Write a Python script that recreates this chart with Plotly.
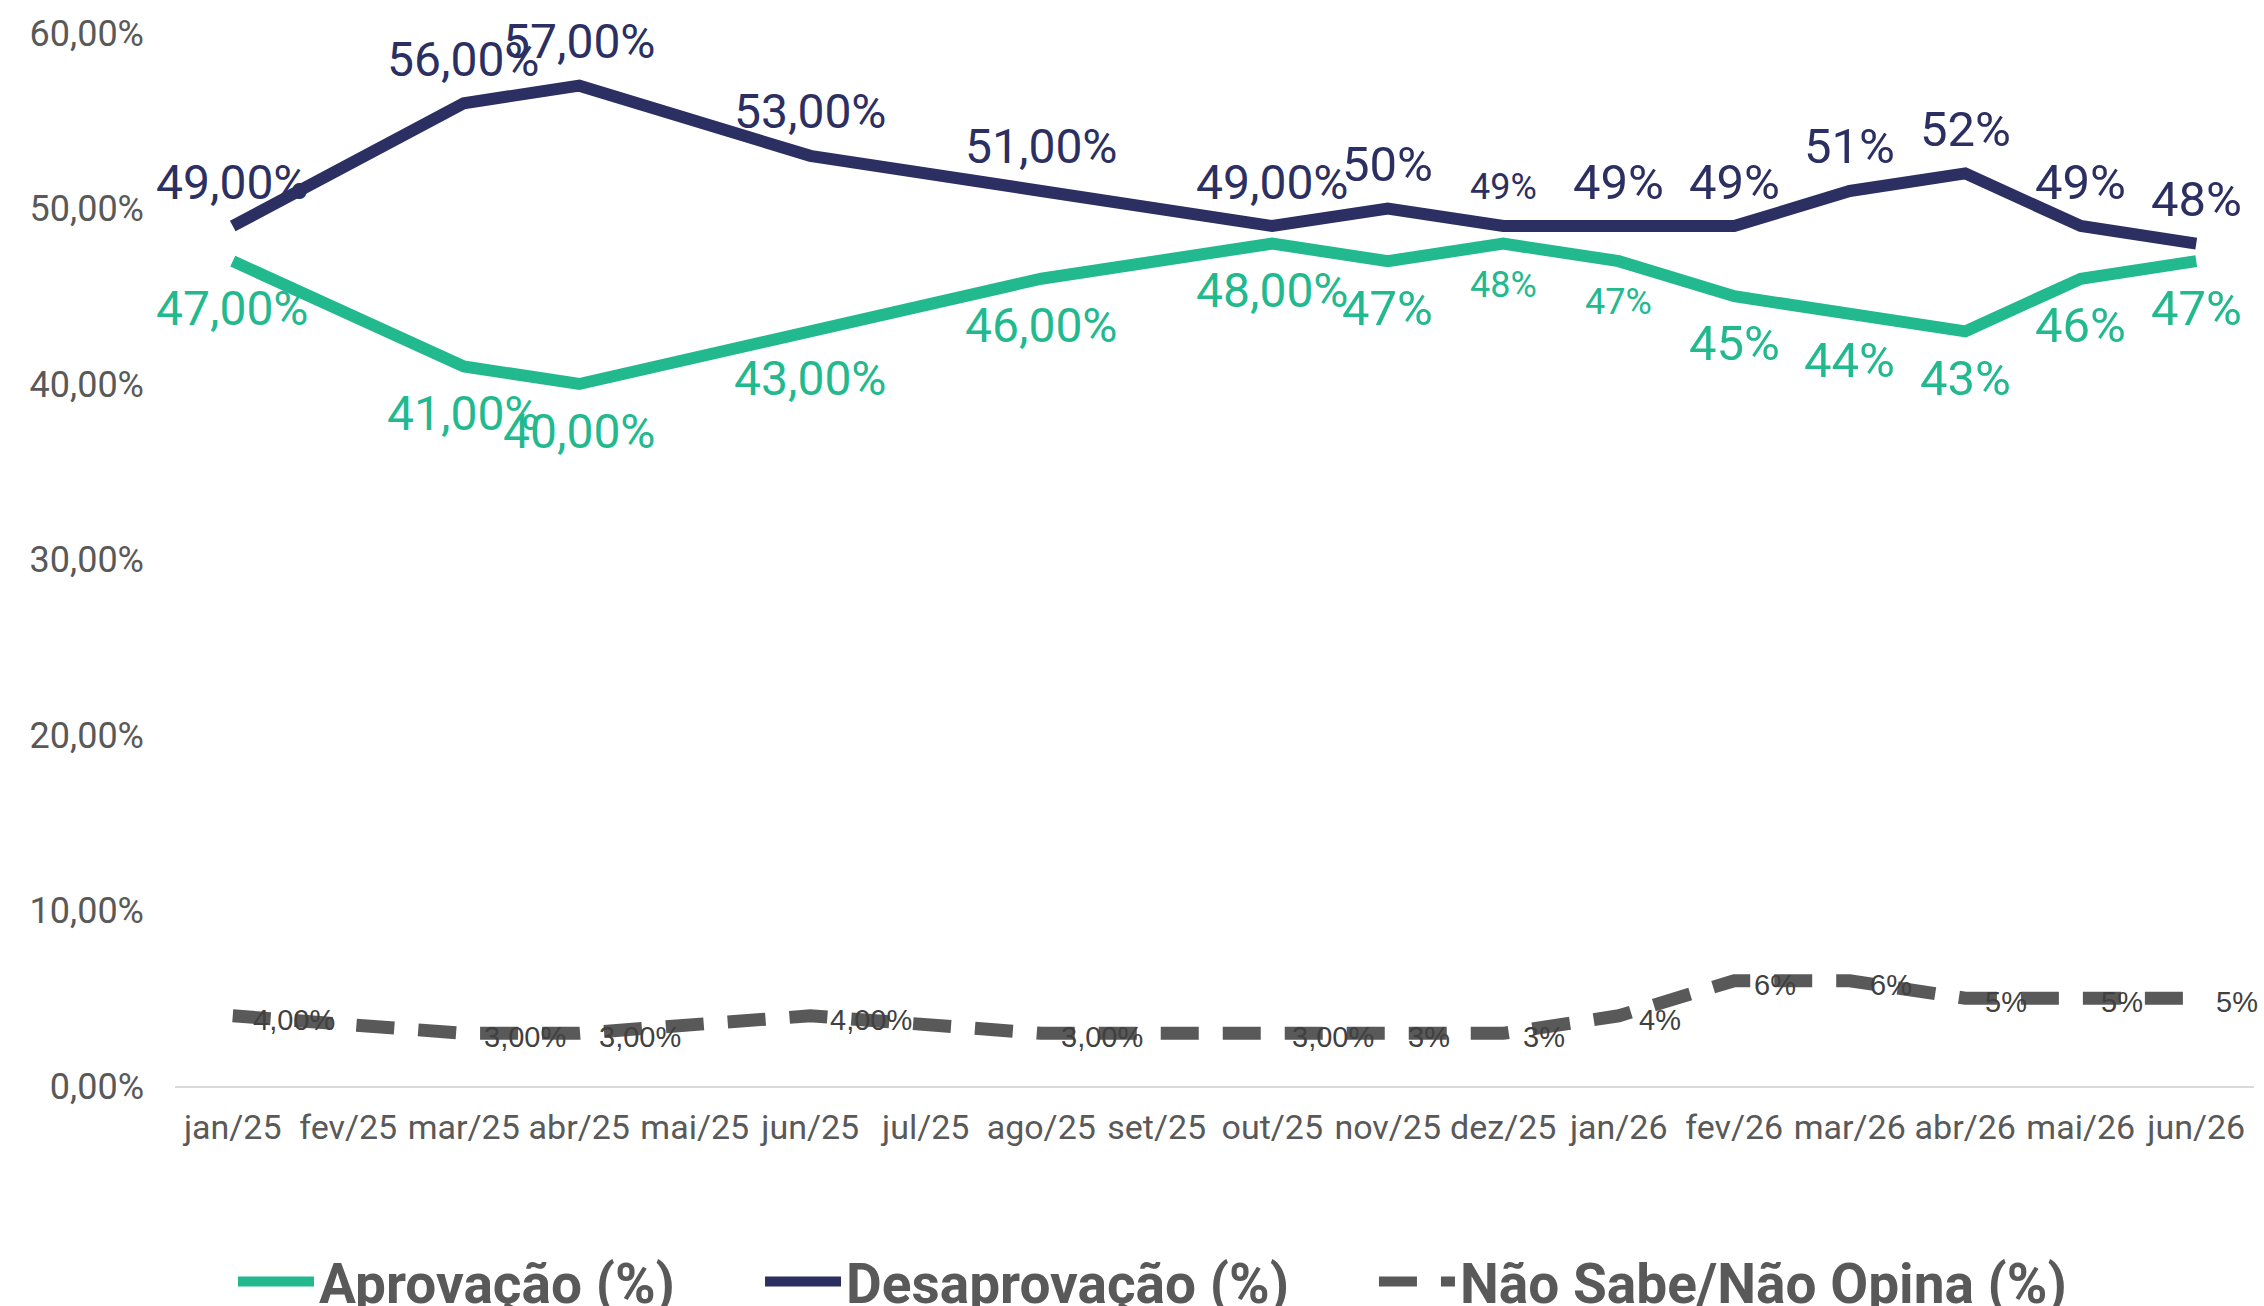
import plotly.graph_objects as go

months = ["jan/25", "fev/25", "mar/25", "abr/25", "mai/25", "jun/25", "jul/25", "ago/25",
          "set/25", "out/25", "nov/25", "dez/25", "jan/26", "fev/26", "mar/26", "abr/26",
          "mai/26", "jun/26"]

aprov = [47, None, 41, 40, None, 43, None, 46, None, 48, 47, 48, 47, 45, 44, 43, 46, 47]
desap = [49, None, 56, 57, None, 53, None, 51, None, 49, 50, 49, 49, 49, 51, 52, 49, 48]
nsno = [4, None, 3, 3, None, 4, None, 3, None, 3, 3, 3, 4, 6, 6, 5, 5, 5]

aprov_labels = ["47,00%", None, "41,00%", "40,00%", None, "43,00%", None, "46,00%", None,
                "48,00%", "47%", "48%", "47%", "45%", "44%", "43%", "46%", "47%"]
desap_labels = ["49,00%", None, "56,00%", "57,00%", None, "53,00%", None, "51,00%", None,
                "49,00%", "50%", "49%", "49%", "49%", "51%", "52%", "49%", "48%"]
nsno_labels = ["4,00%", None, "3,00%", "3,00%", None, "4,00%", None, "3,00%", None,
               "3,00%", "3%", "3%", "4%", "6%", "6%", "5%", "5%", "5%"]
small_desap_months = ["dez/25"]
small_aprov_months = ["dez/25", "jan/26"]

y_ticks = [0, 10, 20, 30, 40, 50, 60]
y_tick_text = ["0,00%", "10,00%", "20,00%", "30,00%", "40,00%", "50,00%", "60,00%"]

GREEN = "#23B98F"
NAVY = "#2C2F62"
GRAY = "#595959"
LABEL_FONT = "Roboto, 'Open Sans', sans-serif"
NARROW_FONT = "'Liberation Sans Narrow', 'Liberation Sans', sans-serif"

fig = go.Figure()
fig.add_trace(go.Scatter(x=months, y=aprov, name="Aprovação (%)", mode="lines",
                         connectgaps=True, line=dict(color=GREEN, width=12), legend="legend"))
fig.add_trace(go.Scatter(x=months, y=desap, name="Desaprovação (%)", mode="lines",
                         connectgaps=True, line=dict(color=NAVY, width=12), legend="legend2"))
fig.add_trace(go.Scatter(x=months, y=nsno, name="Não Sabe/Não Opina (%)", mode="lines",
                         connectgaps=True, line=dict(color=GRAY, width=13, dash="38px,24px"),
                         legend="legend3"))

annotations = []
for m, v, t in zip(months, desap, desap_labels):
    if v is None:
        continue
    small = m in small_desap_months
    size = 36 if small else (48 if "," in t else 49)
    annotations.append(dict(x=m, y=v, text=t, showarrow=False, yshift=39 if small else 44,
                            font=dict(family=LABEL_FONT, size=size, color=NAVY)))
for m, v, t in zip(months, aprov, aprov_labels):
    if v is None:
        continue
    small = m in small_aprov_months
    size = 36 if small else (48 if "," in t else 49)
    annotations.append(dict(x=m, y=v, text=t, showarrow=False, yshift=-41 if small else -47,
                            font=dict(family=LABEL_FONT, size=size, color=GREEN)))
for m, v, t in zip(months, nsno, nsno_labels):
    if v is None:
        continue
    annotations.append(dict(x=m, y=v, text=t, showarrow=False, xanchor="left", xshift=18,
                            yshift=-4, font=dict(family=NARROW_FONT, size=29, color="#404040")))

legend_common = dict(orientation="h", y=-0.186, yanchor="middle", xanchor="left",
                     itemwidth=76, bgcolor="rgba(0,0,0,0)",
                     font=dict(family=LABEL_FONT, size=55, color=GRAY, weight="bold"))

fig.update_layout(
    width=2264, height=1306,
    margin=dict(l=175, r=10, t=33, b=220, autoexpand=False),
    paper_bgcolor="white", plot_bgcolor="white",
    annotations=annotations,
    showlegend=True,
    legend=dict(x=0.0279, **legend_common),
    legend2=dict(x=0.2814, **legend_common),
    legend3=dict(x=0.5767, **legend_common),
    xaxis=dict(type="category", categoryorder="array", categoryarray=months,
               range=[-0.5, 17.5], showgrid=False, showline=True, linecolor="#D9D9D9",
               linewidth=2, ticks="", ticklabelstandoff=10,
               tickfont=dict(family=LABEL_FONT, size=34, color=GRAY)),
    yaxis=dict(range=[0, 60], tickvals=y_ticks, ticktext=y_tick_text, showgrid=False,
               zeroline=False, showline=False, ticks="",
               tickfont=dict(family=LABEL_FONT, size=36, color=GRAY), ticklabelstandoff=30),
)

fig.write_html("out.html", config={"displayModeBar": False},
               post_script="document.body.style.margin='0px'; document.body.style.overflow='hidden';")
